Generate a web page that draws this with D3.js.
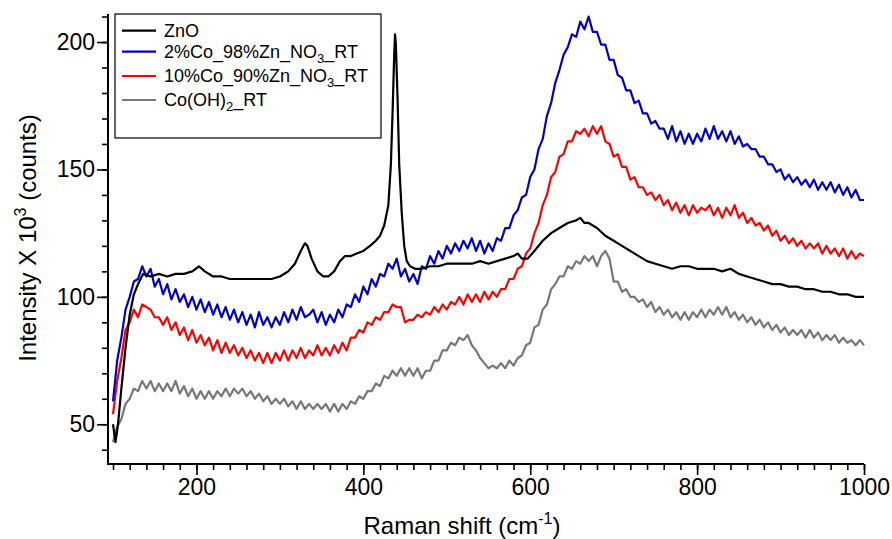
<!DOCTYPE html>
<head>
<style>
body { margin: 0; background: #fff; }
svg { font-family: Arial, "Liberation Sans", sans-serif; }
</style>
<script src="https://d3js.org/d3.v7.min.js"></script>
</head>
<body>
<svg id="ramanSvg" width="892" height="539"></svg>
<script>

// sampling grid (cm-1) for the three noisy spectra
var shift = [100,105,110,115,120,125,130,135,140,145,150,155,160,165,170,175,180,185,190,195,
  200,205,210,215,220,225,230,235,240,245,250,255,260,265,270,275,280,285,290,295,
  300,305,310,315,320,325,330,335,340,345,350,355,360,365,370,375,380,385,390,395,
  400,405,410,415,420,425,430,435,440,445,450,455,460,465,470,475,480,485,490,495,
  500,505,510,515,520,525,530,535,540,545,550,555,560,565,570,575,580,585,590,595,
  600,605,610,615,620,625,630,635,640,645,650,655,660,665,670,675,680,685,690,695,
  700,705,710,715,720,725,730,735,740,745,750,755,760,765,770,775,780,785,790,795,
  800,805,810,815,820,825,830,835,840,845,850,855,860,865,870,875,880,885,890,895,
  900,905,910,915,920,925,930,935,940,945,950,955,960,965,970,975,980,985,990,995,1000];

// 2%Co_98%Zn_NO3_RT
var co2 = [59,75,84,95,100,106,107,112,108,111,104,107,101,105,99,103,98,101,96,100,
  95,99,94,98,93,97,92,96,91,95,90,94,89,93,88,94,89,92,88,92,
  89,94,90,95,91,96,92,93,95,90,94,89,93,90,95,92,97,96,101,98,
  104,101,107,104,109,108,113,111,115,108,111,106,109,105,112,111,116,113,118,115,
  120,117,121,118,122,119,123,118,122,117,121,118,123,122,127,127,132,134,139,140,
  147,150,158,162,171,176,184,189,195,198,203,202,208,205,210,204,204,199,199,193,
  193,187,186,181,181,176,177,172,172,168,169,166,166,162,167,161,165,160,164,160,
  164,161,166,162,167,162,165,161,165,160,163,159,160,158,158,155,155,152,152,149,
  150,146,148,145,147,144,146,143,146,142,145,142,145,141,144,140,143,139,142,138,138];

// 10%Co_90%Zn_NO3_RT
var co10 = [54,67,76,87,90,95,92,97,96,95,92,92,89,92,87,90,85,88,83,87,
  82,85,81,84,79,83,78,82,78,81,77,80,76,79,75,78,74,78,74,78,
  75,79,75,79,76,80,76,79,77,81,77,80,77,81,78,82,79,84,84,87,
  86,90,89,92,91,94,94,97,96,96,90,91,91,93,92,94,93,96,94,97,
  95,98,97,100,97,101,98,101,98,102,99,102,100,103,103,107,107,111,112,117,
  119,125,129,136,140,147,149,155,156,161,161,165,164,166,163,167,164,167,161,160,
  155,156,151,151,146,147,143,143,140,141,138,140,136,138,134,137,133,136,132,136,
  133,135,134,136,132,135,131,135,132,136,131,133,129,131,128,129,126,128,124,126,
  122,124,121,123,120,122,119,121,119,121,117,120,117,119,116,119,115,118,115,117,116];

// Co(OH)2_RT
var cooh = [43,49,52,58,60,64,63,67,64,67,63,66,63,66,63,67,62,65,61,64,
  60,63,60,63,60,63,61,64,61,64,62,64,61,63,60,62,59,61,58,60,
  58,60,57,59,56,59,56,58,56,58,56,58,55,58,55,58,56,59,58,61,
  60,63,63,66,65,69,68,71,69,72,69,72,69,72,68,71,71,75,75,79,
  79,82,81,84,83,85,81,79,76,74,72,73,72,74,72,75,73,76,77,81,
  82,88,89,95,97,103,105,108,108,112,111,114,113,116,114,116,112,116,118,115,
  106,106,102,103,100,100,98,99,96,98,94,96,93,95,92,94,91,94,91,94,
  92,95,92,95,93,96,93,96,92,94,91,93,90,92,89,91,88,90,87,89,
  86,88,85,87,85,87,84,87,84,86,83,85,83,85,82,84,82,83,81,83,81];

// ZnO, smoother, with its own points around the sharp 438 band
var znoShift = [100,103,106,110,115,120,125,130,136,145,155,165,175,185,195,203,210,220,230,240,
  250,260,270,280,290,300,310,318,325,330,333,338,345,352,358,365,372,378,385,392,
  400,408,415,420,425,430,433,435,437,438,439,441,443,446,449,452,456,462,470,480,
  490,500,510,520,530,540,550,560,570,580,585,590,597,605,615,625,635,645,655,660,
  665,670,680,690,700,710,720,730,740,750,760,770,780,790,800,810,820,830,840,850,
  860,870,880,890,900,910,920,930,940,950,960,970,980,990,1000];
var zno = [50,43,50,64,80,93,101,105,109,108,109,108,109,109,110,112,110,108,108,107,
  107,107,107,107,107,108,110,113,118,121,120,115,110,108,108,110,114,116,116,117,
  118,120,122,124,128,136,152,172,195,203,199,178,152,133,120,114,112,111,111,112,
  112,113,113,113,113,114,113,114,115,116,117,115,115,118,122,125,127,129,130,131,
  129,129,127,124,122,120,118,116,114,113,112,111,112,112,111,111,111,110,111,109,
  108,107,106,105,105,104,104,103,103,102,102,101,101,100,100];

var seriesNames = ["ZnO", "2%Co_98%Zn_NO3_RT", "10%Co_90%Zn_NO3_RT", "Co(OH)2_RT"];
var seriesColors = ["#000000", "#0000c8", "#ff0000", "#777777"];

var xTickMajor = [200, 400, 600, 800, 1000];
var yTickMajor = [50, 100, 150, 200];

var svg = d3.select("#ramanSvg");

var x = d3.scaleLinear().domain([94, 1000]).range([108, 864]);
var y = d3.scaleLinear().domain([34.4, 211]).range([464, 14]);

var series = [
  { name: seriesNames[3], color: seriesColors[3], xs: shift, ys: cooh },
  { name: seriesNames[2], color: seriesColors[2], xs: shift, ys: co10 },
  { name: seriesNames[1], color: seriesColors[1], xs: shift, ys: co2 },
  { name: seriesNames[0], color: seriesColors[0], xs: znoShift, ys: zno }
];

var line = d3.line()
    .x(function(d) { return x(d[0]); })
    .y(function(d) { return y(d[1]); });

svg.append("g").selectAll("path")
    .data(series)
    .enter().append("path")
    .attr("fill", "none")
    .attr("stroke", function(d) { return d.color; })
    .attr("stroke-width", 2.2)
    .attr("stroke-linejoin", "round")
    .attr("d", function(d) { return line(d.xs.map(function(v, i) { return [v, d.ys[i]]; })); });

// axes: minor ticks first, then major ticks with labels
var xMinor = d3.axisBottom(x).tickValues(d3.range(100, 1001, 20)).tickSize(6).tickFormat("");
var xMajor = d3.axisBottom(x).tickValues(xTickMajor).tickSize(11).tickPadding(4).tickFormat(d3.format("d"));
var yMinor = d3.axisLeft(y).tickValues(d3.range(40, 211, 10)).tickSize(6).tickFormat("");
var yMajor = d3.axisLeft(y).tickValues(yTickMajor).tickSize(11).tickPadding(2).tickFormat(d3.format("d"));

function styleAxis(g) {
  g.select(".domain").remove();
  g.selectAll("line").attr("stroke", "#000").attr("stroke-width", 1.6);
  g.selectAll("text").attr("fill", "#000").style("font-size", "23px");
}

svg.append("g").attr("transform", "translate(0,464)").call(xMinor).call(styleAxis);
svg.append("g").attr("transform", "translate(0,464)").call(xMajor).call(styleAxis);
svg.append("g").attr("transform", "translate(108,0)").call(yMinor).call(styleAxis);
svg.append("g").attr("transform", "translate(108,0)").call(yMajor).call(styleAxis);

// axis lines
svg.append("line").attr("x1", 108).attr("x2", 864).attr("y1", 464).attr("y2", 464)
    .attr("stroke", "#000").attr("stroke-width", 2);
svg.append("line").attr("x1", 108).attr("x2", 108).attr("y1", 14).attr("y2", 465)
    .attr("stroke", "#000").attr("stroke-width", 2);

// axis titles
var xt = svg.append("text").attr("x", 462).attr("y", 534)
    .attr("text-anchor", "middle").style("font-size", "24px");
xt.append("tspan").text("Raman shift (cm");
xt.append("tspan").attr("dy", -10).style("font-size", "16px").text("-1");
xt.append("tspan").attr("dy", 10).text(")");

var yt = svg.append("text").attr("transform", "translate(36,238) rotate(-90)")
    .attr("text-anchor", "middle").style("font-size", "24px");
yt.append("tspan").text("Intensity X 10");
yt.append("tspan").attr("dy", -10).style("font-size", "16px").text("3");
yt.append("tspan").attr("dy", 10).text(" (counts)");

// legend
var legend = svg.append("g");
legend.append("rect").attr("x", 115).attr("y", 14).attr("width", 266).attr("height", 124)
    .attr("fill", "#fff").attr("stroke", "#000").attr("stroke-width", 1.2);

var legendRows = [30.7, 51.7, 76, 100];
var legendLabels = [
  [["ZnO", 0]],
  [["2%Co_98%Zn_NO", 0], ["3", 1], ["_RT", -1]],
  [["10%Co_90%Zn_NO", 0], ["3", 1], ["_RT", -1]],
  [["Co(OH)", 0], ["2", 1], ["_RT", -1]]
];
legendRows.forEach(function(ry, i) {
  legend.append("line").attr("x1", 122).attr("x2", 156).attr("y1", ry).attr("y2", ry)
      .attr("stroke", seriesColors[i]).attr("stroke-width", 2.2);
  var t = legend.append("text").attr("x", 164).attr("y", ry + 6).style("font-size", "18px");
  legendLabels[i].forEach(function(p) {
    var s = t.append("tspan").text(p[0]);
    if (p[1] === 1) s.attr("dy", 5).style("font-size", "13px");
    if (p[1] === -1) s.attr("dy", -5);
  });
});

</script>
</body>
</html>
